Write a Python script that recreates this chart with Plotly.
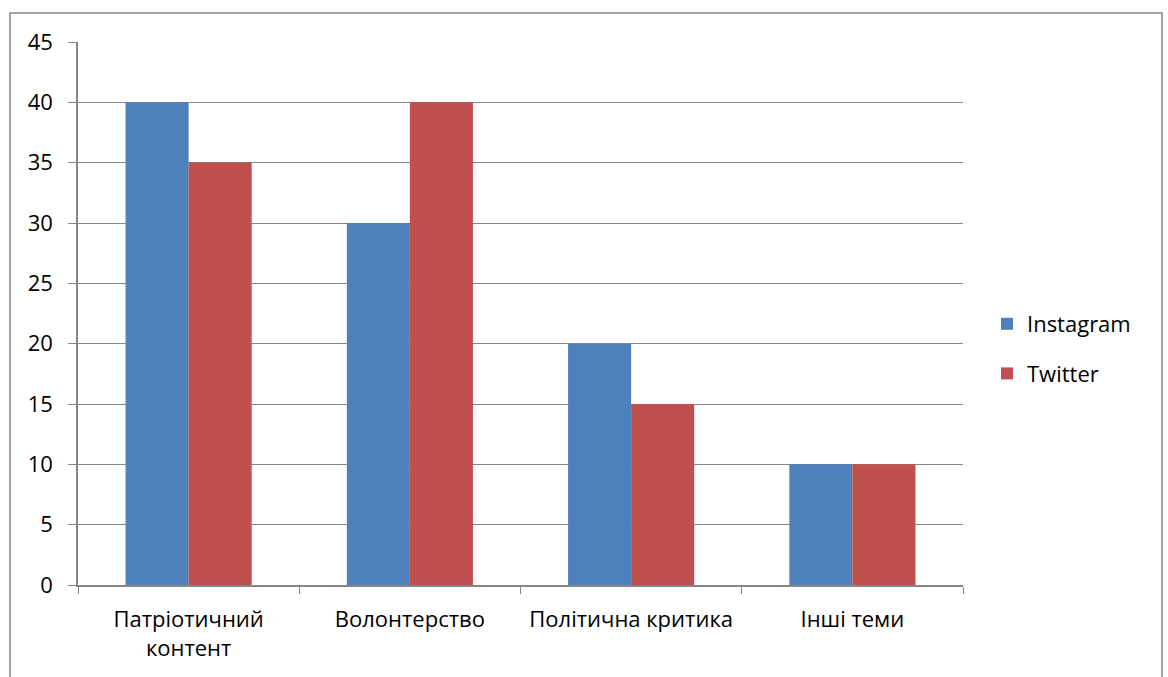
import plotly.graph_objects as go

categories = ["Патріотичний<br>контент", "Волонтерство", "Політична критика", "Інші теми"]
instagram = [40, 30, 20, 10]
twitter = [35, 40, 15, 10]
y_ticks = [0, 5, 10, 15, 20, 25, 30, 35, 40, 45]

W, H = 1168, 677
L, R, T, B = 78, 205, 42, 92
pw, ph = W - L - R, H - T - B

def px_x(x):
    return (x - L) / pw

def px_y(y):
    return (H - B - y) / ph

font = dict(family="Open Sans, Noto Sans, sans-serif", size=22, color="#000000")
grid = "#868686"

fig = go.Figure()
fig.add_trace(go.Bar(name="Instagram", x=categories, y=instagram, marker_color="#4F81BD",
                     marker_line_width=0, legendgroup="a"))
fig.add_trace(go.Bar(name="Twitter", x=categories, y=twitter, marker_color="#C0504D",
                     marker_line_width=0, legendgroup="b"))

fig.update_layout(
    width=W, height=H,
    margin=dict(l=L, r=R, t=T, b=B),
    paper_bgcolor="white", plot_bgcolor="white",
    font=font,
    barmode="group", bargap=0.43, bargroupgap=0,
    legend=dict(x=px_x(987), y=px_y(349), xanchor="left", yanchor="middle",
                traceorder="grouped", tracegroupgap=18, font=font,
                itemwidth=30, bgcolor="rgba(0,0,0,0)"),
    xaxis=dict(type="category", tickson="boundaries", ticks="outside", ticklen=7,
               tickcolor=grid, showline=True, linecolor=grid, linewidth=1.5,
               showgrid=False, tickfont=font, ticklabelstandoff=14),
    yaxis=dict(range=[0, 45], tickvals=y_ticks, ticks="outside", ticklen=8,
               tickcolor=grid, showline=True, linecolor=grid, linewidth=1.5,
               showgrid=True, gridcolor=grid, gridwidth=1, zeroline=False,
               tickfont=font, ticklabelstandoff=11),
    shapes=[dict(type="rect", xref="paper", yref="paper",
                 x0=px_x(10), x1=px_x(1162), y0=px_y(13), y1=px_y(700),
                 line=dict(color="#868686", width=1.5), fillcolor="rgba(0,0,0,0)",
                 layer="below")],
)

fig.write_html("out.html")
